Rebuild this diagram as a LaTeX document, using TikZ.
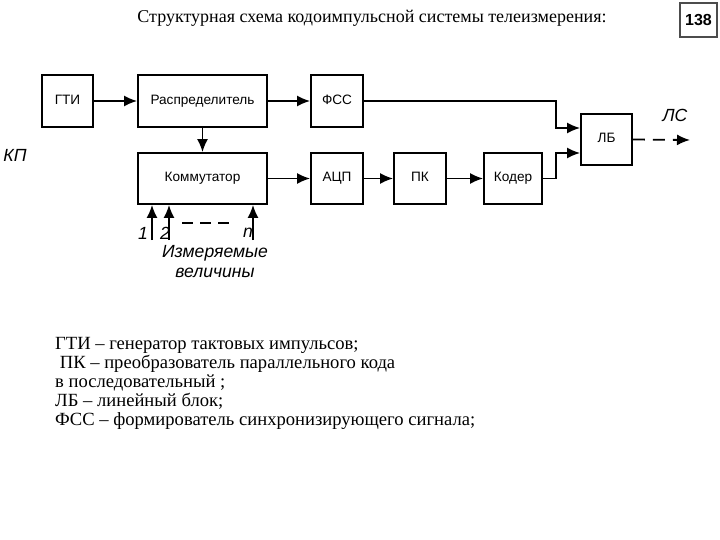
\documentclass[tikz,border=0pt]{standalone}
\usepackage{fontspec}
\setmainfont{Liberation Serif}
\newfontfamily\arial{Liberation Sans}
\usetikzlibrary{arrows.meta,positioning,calc}

\tikzset{
  blok/.style={draw, line width=1.8pt, minimum width=52pt, minimum height=52pt, inner sep=0pt,
    text height=10pt, text depth=3pt, font=\arial\fontsize{13.6}{16}\selectfont},
  pil/.style={-{Latex[length=13pt,width=11pt]}, line width=1.8pt},
  kursiv/.style={font=\arial\itshape\fontsize{17.6}{20}\selectfont, inner sep=0pt}
}

\begin{document}
\begin{tikzpicture}[x=1pt, y=-1pt]
    \useasboundingbox (0,0) rectangle (720,540);
    \node[font=\fontsize{18}{20}\selectfont] (titel) at (372,18) {Структурная схема кодоимпульсной системы телеизмерения:};
    \node[draw=black!70, line width=1.2pt, minimum width=37pt, minimum height=34pt, inner sep=0pt,
          font=\arial\bfseries\fontsize{16}{18}\selectfont] (seite) at (698.5,20) {138};

    \node[blok, minimum width=51pt] (gti) at (67.5,101) {ГТИ};
    \node[blok, minimum width=129pt] (raspr) at (202.5,101) {Распределитель};
    \node[blok] (fss) at (337,101) {ФСС};
    \node[blok, minimum width=129pt, minimum height=51pt] (komm) at (202.5,178.5) {Коммутатор};
    \node[blok, minimum height=51pt] (acp) at (337,178.5) {АЦП};
    \node[blok, minimum height=51pt] (pk) at (420,178.5) {ПК};
    \node[blok, minimum width=58pt, minimum height=51pt] (koder) at (513,178.5) {Кодер};
    \node[blok, minimum width=51pt, minimum height=51pt] (lb) at (606.5,139.5) {ЛБ};

    \node[kursiv] (kp) at (15,155) {КП};
    \node[kursiv] (lslabel) at (675,115) {ЛС};

    \draw[pil] (gti) -- (raspr);
    \draw[pil] (raspr) -- (fss);
    \draw[pil] (raspr) -- (komm);
    \draw[pil] (komm) -- (acp);
    \draw[pil] (acp) -- (pk);
    \draw[pil] (pk) -- (koder);

    % Zusammenfuehrung am ЛБ
    \coordinate (knick) at (556,0);
    \draw[pil] (fss.east) -- (fss.east -| knick) |- ([yshift=11.5pt]lb.west);
    \draw[pil] (koder.east) -- (koder.east -| knick) |- ([yshift=-13.5pt]lb.west);
    \coordinate (ls) at (690,140);
    \draw[pil, dash pattern=on 12pt off 8pt] (lb.east) -- (ls);

    % Messgroessen
    \coordinate (ein1) at (152,240);
    \coordinate (ein2) at (169,240);
    \coordinate (einn) at (253,240);
    \draw[pil] (ein1) -- (ein1 |- komm.south);
    \draw[pil] (ein2) -- (ein2 |- komm.south);
    \draw[pil] (einn) -- (einn |- komm.south);
    \coordinate (strich1) at (182,223);
    \coordinate (strich2) at (232,223);
    \draw[line width=1.8pt, dash pattern=on 11pt off 7pt] (strich1) -- (strich2);
    \node[kursiv] (n1) at (143,233) {1};
    \node[kursiv] (n2) at (165,233) {2};
    \node[kursiv] (nn) at (248,233) {n};
    \node[kursiv, align=center] (mess) at (215,262) {Измеряемые\\величины};

    \node[anchor=base west, align=left, inner sep=0pt, font=\fontsize{18.6}{18.8}\selectfont] (legende) at (55,425)
      {ГТИ – генератор тактовых импульсов;\\
       \ ПК – преобразователь параллельного кода\\
       в последовательный ;\\
       ЛБ – линейный блок;\\
       ФСС – формирователь синхронизирующего сигнала;};
\end{tikzpicture}
\end{document}
